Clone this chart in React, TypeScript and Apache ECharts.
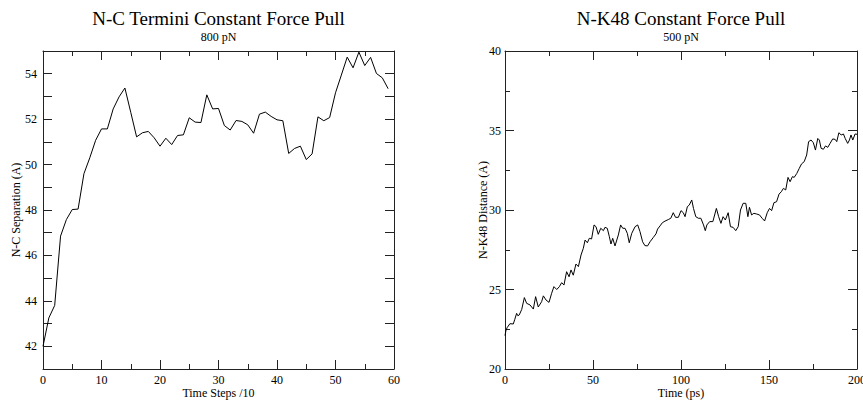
import React, { useEffect, useRef } from "react";
import * as echarts from "echarts";

const leftSteps = [0,1,2,3,4,5,6,7,8,9,10,11,12,13,14,15,16,17,18,19,20,21,22,23,24,25,26,27,28,29,30,31,32,33,34,35,36,37,38,39,40,41,42,43,44,45,46,47,48,49,50,51,52,53,54,55,56,57,58,59];
const leftSep = [42.0,43.25,43.8,46.85,47.58,48.02,48.04,49.6,50.3,51.07,51.57,51.57,52.45,52.98,53.37,52.3,51.22,51.4,51.46,51.18,50.81,51.16,50.88,51.28,51.31,52.06,51.87,51.85,53.07,52.45,52.47,51.72,51.52,51.94,51.9,51.75,51.38,52.22,52.31,52.12,51.97,51.93,50.49,50.71,50.81,50.22,50.47,52.1,51.93,52.07,53.16,53.94,54.73,54.26,54.95,54.36,54.72,54.01,53.82,53.34];

const rightTime = [0,0.5,1.2,2.8,4.7,5.5,6.6,7.3,8.1,9.5,11,12.3,14.2,16.1,17.4,18.9,20.8,21.8,23.3,25,26.5,27.8,29.4,30.9,32.2,33.5,35,36.4,37.5,38.8,40.3,41.7,43.2,44.5,45.5,46.8,47.9,49.2,50.6,51.7,53,54.4,55.9,56.8,58.1,59.3,60.2,61.2,62.5,64.4,65.7,66.9,68.2,69.5,70.6,72,73.9,75.4,76.7,78.2,79.5,81,82.4,84.3,85.8,86.7,88.1,89.4,90.9,92.8,94.2,95.6,96.9,98.5,100,101.3,102.3,103.6,104.7,106.1,107.1,108.4,109.9,111.3,112.8,113.8,114.7,116.3,118.1,120.1,121.4,122.7,123.9,125.2,126.8,128.1,129.6,131.1,132.5,133.8,135.3,136.8,138,138.9,140.1,141.4,142.9,144.6,146.1,147.5,149,150.3,151.5,152.8,154.3,155.7,157,158.2,159.5,160.8,162,163.3,164.3,165.8,167.2,168.5,170,171.4,172.5,173.9,175.2,176.4,177.7,178.6,179.6,180.9,182.1,183.4,184.7,186.2,187.6,188.5,189.7,191,192.3,193.3,194.7,195.7,196.6,197.6,198.9,200];
const rightDist = [22.1,22.4,22.6,22.85,22.83,23.1,23.5,23.35,23.4,23.75,24.49,24.13,24.03,23.77,24.55,23.9,24.23,24.6,24.34,24.19,24.76,25.18,25.0,25.18,25.43,25.28,26.12,25.8,26.23,25.9,26.6,26.44,27.17,27.59,28.11,27.94,28.22,28.18,29.06,28.95,28.47,28.85,28.7,28.91,28.85,28.32,27.86,28.22,27.74,28.43,29.06,28.85,28.85,28.53,27.94,28.53,28.95,29.06,28.64,28.0,27.76,27.74,28.0,28.28,28.5,28.8,29.0,29.2,29.3,29.4,29.48,29.83,29.54,29.54,29.96,29.83,29.58,30.21,30.31,30.63,30.1,29.58,29.48,29.48,29.06,28.7,29.06,29.27,29.27,30.1,29.58,29.16,29.58,29.37,29.83,28.95,28.91,28.7,28.95,30.0,30.42,30.42,29.58,30.17,29.69,29.79,29.75,29.69,29.48,29.31,29.83,30.1,29.96,30.46,30.52,31.0,31.15,31.36,31.26,32.05,31.78,32.1,32.05,32.3,32.62,32.9,33.04,33.46,34.3,34.4,34.23,33.77,34.5,34.4,33.88,33.82,34.03,33.94,34.19,34.47,34.44,34.3,34.86,34.72,34.78,34.5,34.19,34.4,34.72,34.4,34.78,34.76];

const FONT = "'Liberation Serif', 'Times New Roman', serif";
const AX = "#222";

function xAx(grid: number, pos: "bottom" | "top", min: number, max: number, interval: number, name: string) {
  const bottom = pos === "bottom";
  return {
    type: "value", gridIndex: grid, position: pos, min, max, interval,
    name: bottom ? name : "", nameLocation: "middle", nameGap: 18, nameMoveOverlap: false,
    nameTextStyle: { fontFamily: FONT, fontSize: 12, color: "#000" },
    axisLine: { show: true, onZero: false, lineStyle: { color: AX, width: 1 } },
    axisTick: { show: true, inside: true, length: 9, lineStyle: { color: AX } },
    minorTick: { show: true, splitNumber: 2, length: 5, lineStyle: { color: AX } },
    splitLine: { show: false }, minorSplitLine: { show: false },
    axisLabel: { show: bottom, fontFamily: FONT, fontSize: 12, color: "#000", margin: 5 },
  };
}

export default function App() {
  const ref = useRef<HTMLDivElement>(null);
  useEffect(() => {
    document.body.style.margin = "0";
    const chart = echarts.init(ref.current!, undefined, { renderer: "svg" });
    const leftData = leftSteps.map((t, i) => [t, leftSep[i]]);
    const rightData = rightTime.map((t, i) => [t, rightDist[i]]);
    const yLeftBase = (pos: "left" | "right") => ({
      type: "value", gridIndex: 0, position: pos, min: 41, max: 55, interval: 1,
      name: pos === "left" ? "N-C Separation (A)" : "", nameLocation: "middle", nameGap: 21, nameMoveOverlap: false,
      nameTextStyle: { fontFamily: FONT, fontSize: 12, color: "#000" },
      axisLine: { show: true, onZero: false, lineStyle: { color: AX, width: 1 } },
      axisTick: { show: true, inside: true, length: 9, lineStyle: { color: AX } },
      splitLine: { show: false },
      axisLabel: {
        show: pos === "left", fontFamily: FONT, fontSize: 12, color: "#000", margin: 6,
        formatter: (v: number) => (v % 2 === 0 && v >= 42 && v <= 54 ? String(v) : ""),
      },
    });
    const yRightBase = (pos: "left" | "right") => ({
      type: "value", gridIndex: 1, position: pos, min: 20, max: 40, interval: 5,
      name: pos === "left" ? "N-K48 Distance (A)" : "", nameLocation: "middle", nameGap: 16, nameMoveOverlap: false,
      nameTextStyle: { fontFamily: FONT, fontSize: 12, color: "#000" },
      axisLine: { show: true, onZero: false, lineStyle: { color: AX, width: 1 } },
      axisTick: { show: true, inside: true, length: 9, lineStyle: { color: AX } },
      minorTick: { show: true, splitNumber: 2, length: 5, lineStyle: { color: AX } },
      splitLine: { show: false }, minorSplitLine: { show: false },
      axisLabel: { show: pos === "left", fontFamily: FONT, fontSize: 12, color: "#000", margin: 4 },
    });
    const txt = (text: string, x: number, y: number, size: number) => ({
      type: "text", x, y,
      style: { text, fontFamily: FONT, fontSize: size, fill: "#000", textAlign: "center", textVerticalAlign: "middle" },
    });
    chart.setOption({
      animation: false,
      backgroundColor: "#fff",
      grid: [
        { left: 43, top: 51, width: 351, height: 318, outerBoundsMode: "none", containLabel: false },
        { left: 505, top: 51, width: 352, height: 318, outerBoundsMode: "none", containLabel: false },
      ],
      xAxis: [
        xAx(0, "bottom", 0, 60, 10, "Time Steps /10"),
        xAx(0, "top", 0, 60, 10, ""),
        xAx(1, "bottom", 0, 200, 50, "Time (ps)"),
        xAx(1, "top", 0, 200, 50, ""),
      ],
      yAxis: [yLeftBase("left"), yLeftBase("right"), yRightBase("left"), yRightBase("right")],
      graphic: [
        txt("N-C Termini Constant Force Pull", 218.5, 18.5, 19),
        txt("800 pN", 218.5, 37, 12),
        txt("N-K48 Constant Force Pull", 681, 18.5, 19),
        txt("500 pN", 681, 37, 12),
      ],
      series: [
        { type: "line", xAxisIndex: 0, yAxisIndex: 0, data: leftData, showSymbol: false, lineStyle: { color: "#000", width: 1 } },
        { type: "line", xAxisIndex: 2, yAxisIndex: 2, data: rightData, showSymbol: false, lineStyle: { color: "#000", width: 1 } },
      ],
    });
    return () => chart.dispose();
  }, []);
  return <div ref={ref} style={{ width: 863, height: 400 }} />;
}
